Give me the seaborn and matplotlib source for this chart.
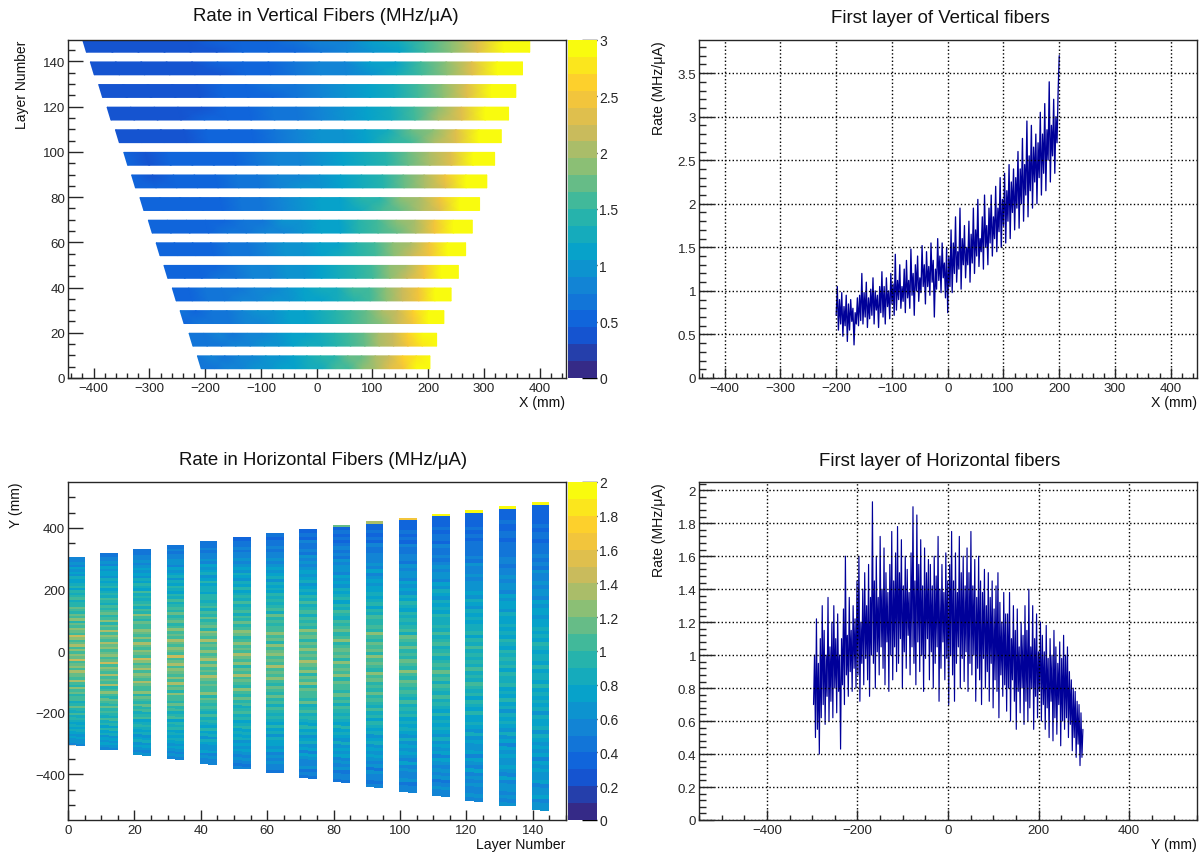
import matplotlib
matplotlib.use("Agg")
import matplotlib.pyplot as plt
from matplotlib.colors import Normalize
from matplotlib.ticker import MultipleLocator, FuncFormatter
import numpy as np
import seaborn as sns

sns.set_theme(style="ticks")
plt.rcParams['font.family'] = ['Liberation Sans', 'DejaVu Sans']
plt.rcParams['axes.linewidth'] = 1.0

W, H = 1203, 854

# ROOT "bird" palette stops
BIRD = [(0.2082, 0.1664, 0.5293), (0.0592, 0.3599, 0.8684), (0.0780, 0.5041, 0.8385),
        (0.0232, 0.6419, 0.7914), (0.1802, 0.7178, 0.6425), (0.5301, 0.7492, 0.4662),
        (0.8186, 0.7328, 0.3499), (0.9956, 0.7862, 0.1968), (0.9764, 0.9832, 0.0539)]

# --- vertical fibers: layer edges (mm) and rate along each layer, bottom layer first
V_LEFT = [-214, -229, -245, -259, -274, -288, -302, -317, -332, -346, -361, -376, -391, -406, -420]
V_RIGHT = [203, 215, 228, 241, 254, 267, 279, 292, 305, 319, 331, 344, 357, 369, 382]
V_RATES = [
    [[.66, .70, .78, .78, .90, .94, 1.08, 1.12, 1.28, 1.32, 1.5, 1.6, 1.82, 1.95, 2.3, 2.45, 2.85, 3.05],
     [.72, .76, .74, .84, .86, 1.0, 1.02, 1.18, 1.22, 1.38, 1.45, 1.66, 1.75, 2.05, 2.2, 2.55, 2.75, 3.15]],
    [[.62, .68, .72, .76, .84, .90, 1.02, 1.1, 1.22, 1.3, 1.45, 1.58, 1.76, 1.95, 2.22, 2.5, 2.82, 3.12],
     [.68, .64, .76, .72, .88, .86, .98, 1.14, 1.18, 1.34, 1.4, 1.62, 1.7, 2.0, 2.18, 2.55, 2.88, 3.2]],
    [[.6, .62, .68, .72, .8, .86, .96, 1.06, 1.16, 1.26, 1.4, 1.52, 1.7, 1.92, 2.2, 2.48, 2.85, 3.2],
     [.64, .6, .72, .7, .76, .9, .92, 1.1, 1.14, 1.3, 1.36, 1.56, 1.66, 1.98, 2.14, 2.55, 2.9, 3.25]],
    [[.58, .58, .62, .68, .76, .82, .9, 1.0, 1.1, 1.2, 1.34, 1.46, 1.64, 1.88, 2.16, 2.46, 2.88, 3.25],
     [.6, .56, .66, .66, .72, .86, .88, 1.04, 1.08, 1.24, 1.3, 1.5, 1.6, 1.92, 2.1, 2.52, 2.94, 3.3]],
    [[.55, .54, .58, .62, .7, .76, .84, .94, 1.04, 1.16, 1.28, 1.42, 1.6, 1.84, 2.12, 2.44, 2.9, 3.3],
     [.56, .52, .6, .6, .68, .8, .82, .98, 1.02, 1.18, 1.24, 1.46, 1.56, 1.88, 2.08, 2.5, 2.95, 3.3]],
    [[.53, .52, .54, .58, .66, .72, .8, .9, 1.0, 1.12, 1.24, 1.38, 1.56, 1.8, 2.1, 2.42, 2.9, 3.3],
     [.54, .5, .56, .56, .64, .74, .78, .94, .98, 1.14, 1.2, 1.42, 1.52, 1.84, 2.06, 2.48, 2.95, 3.3]],
    [[.51, .5, .52, .56, .62, .68, .76, .86, .96, 1.08, 1.2, 1.35, 1.52, 1.78, 2.08, 2.42, 2.9, 3.3],
     [.52, .48, .54, .54, .6, .7, .74, .9, .94, 1.1, 1.18, 1.38, 1.5, 1.82, 2.04, 2.46, 2.95, 3.3]],
    [[.50, .48, .50, .54, .60, .66, .74, .84, .94, 1.05, 1.18, 1.32, 1.5, 1.75, 2.05, 2.4, 2.9, 3.3],
     [.52, .46, .52, .52, .58, .68, .72, .86, .92, 1.08, 1.15, 1.35, 1.46, 1.8, 2.0, 2.45, 2.95, 3.3]],
    [[.47, .46, .47, .5, .56, .62, .7, .8, .9, 1.0, 1.12, 1.27, 1.45, 1.72, 2.02, 2.38, 2.9, 3.3],
     [.48, .44, .48, .48, .54, .64, .68, .82, .88, 1.02, 1.1, 1.3, 1.42, 1.76, 1.98, 2.42, 2.95, 3.3]],
    [[.45, .44, .45, .47, .52, .58, .65, .75, .85, .95, 1.08, 1.22, 1.4, 1.68, 2.0, 2.36, 2.9, 3.3],
     [.46, .42, .46, .45, .5, .6, .63, .77, .83, .98, 1.05, 1.25, 1.38, 1.72, 1.96, 2.4, 2.95, 3.3]],
    [[.43, .42, .42, .44, .49, .54, .6, .7, .8, .91, 1.03, 1.17, 1.36, 1.65, 1.98, 2.34, 2.9, 3.3],
     [.44, .4, .43, .42, .47, .56, .58, .72, .78, .94, 1.0, 1.2, 1.34, 1.68, 1.94, 2.38, 2.95, 3.3]],
    [[.42, .4, .4, .42, .46, .5, .56, .64, .74, .86, .98, 1.13, 1.32, 1.6, 1.96, 2.34, 2.9, 3.3],
     [.43, .38, .41, .4, .44, .52, .54, .66, .72, .88, .96, 1.15, 1.3, 1.64, 1.92, 2.38, 2.95, 3.3]],
    [[.4, .38, .38, .4, .43, .47, .52, .6, .68, .8, .92, 1.08, 1.27, 1.56, 1.94, 2.32, 2.9, 3.3],
     [.42, .37, .39, .38, .41, .49, .5, .62, .66, .82, .9, 1.1, 1.25, 1.6, 1.9, 2.36, 2.95, 3.3]],
    [[.38, .36, .36, .37, .4, .44, .49, .56, .64, .76, .88, 1.04, 1.24, 1.54, 1.92, 2.32, 2.9, 3.3],
     [.4, .35, .37, .36, .39, .46, .47, .58, .62, .78, .86, 1.06, 1.2, 1.58, 1.88, 2.36, 2.95, 3.3]],
    [[.34, .33, .32, .34, .37, .41, .46, .52, .6, .72, .85, 1.0, 1.2, 1.5, 1.9, 2.3, 2.9, 3.3],
     [.42, .4, .4, .4, .44, .48, .5, .58, .64, .78, .88, 1.05, 1.22, 1.55, 1.88, 2.35, 2.95, 3.3]],
]

# --- horizontal fibers: layer edges (mm) and rate along each layer, bottom of layer first
H_TOP = [306, 318, 331, 344, 357, 370, 383, 395, 408, 421, 433, 446, 459, 472, 485]
H_BOTTOM = [-308, -322, -339, -352, -368, -384, -397, -414, -429, -443, -459, -474, -488, -504, -518]
H_EDGE_MM = [0, 0, 0, 0, 0, 0, 0, 0, 3, 4, 5, 5, 6, 7, 8]
H_EDGE_RATE = [0, 0, 0, 0, 0, 0, 0, 0, 1.1, 1.3, 1.6, 1.9, 2.0, 2.0, 2.0]
H_RATES = [
    [.5,.6,.6,.7,.6,.7,.8,.7,.8,.7, .8,.9,.8,1,.8,.9,1.1,.9,.8,1, 1,.9,1.1,1,1.2,.9,1,1.3,1,1.1, 1.1,1.3,1,1.2,1.1,1,1.4,1.1,1.2,1, 1.2,1,1.3,1.1,1,1.2,1.4,1,1.1,1.2, 1,1.1,.9,1.2,1,1.1,.9,1,1.1,.9, .9,.8,1,.9,.8,.9,.7,.9,.8,.7, .7,.8,.6,.7,.6,.7,.5,.6,.5,.5],
    [.5,.6,.7,.6,.7,.6,.8,.7,.9,.7, .9,.8,1,.8,.9,1,.9,1.1,.9,1, 1.1,.9,1,1.2,1,.9,1.3,1,1.1,1, 1.3,1,1.1,1.2,1,1.4,1.1,1,1.2,1.1, 1,1.2,1.1,1.3,1,1.1,1.2,1,1.3,1, 1.1,.9,1.2,1,.9,1.1,1,.9,1,.8, .9,1,.8,.9,.8,.7,.9,.8,.7,.8, .6,.7,.7,.6,.7,.5,.6,.5,.5,.4],
    [.6,.5,.6,.7,.6,.8,.7,.6,.8,.7, .8,.9,.8,.7,1,.9,.8,1,.9,1.1, .9,1,1.1,.9,1.2,1,1,1.1,1.3,1, 1.1,1.2,1,1.3,1.1,1,1.2,1.4,1,1.1, 1.2,1,1.1,1.3,1,1.2,1,1.1,1.2,1, 1,1.1,.9,1,1.2,.9,1,.8,1,.9, .8,.9,.8,1,.7,.8,.9,.7,.8,.6, .7,.6,.7,.6,.5,.6,.5,.5,.4,.4],
    [.5,.6,.5,.6,.7,.6,.7,.8,.7,.8, .7,.9,.8,.9,.7,1,.9,.8,1,.9, 1.1,.9,1,1,1.2,.9,1.1,1,1.3,1, 1.2,1,1.1,1.2,1,1.3,1.1,1,1.4,1, 1.1,1.2,1,1.1,1.3,1,1.1,1,1.2,1, .9,1.1,1,.9,1.1,.9,1,.9,.8,1, .8,.9,.7,.8,.9,.7,.8,.6,.8,.7, .6,.7,.5,.6,.6,.5,.5,.4,.5,.4],
    [.5,.5,.6,.5,.7,.6,.6,.7,.8,.6, .8,.7,.9,.7,.8,.9,.8,1,.8,.9, 1,.9,1,1.1,.9,1.2,1,1,1.1,1, 1.1,1.3,1,1.1,1,1.2,1,1.3,1.1,1, 1.2,1,1.1,1,1.3,1,1.1,1.2,.9,1.1, 1,.9,1.1,.9,1,.8,1,.9,.8,.9, .9,.7,.8,.8,.7,.9,.7,.6,.8,.7, .6,.7,.5,.6,.5,.5,.4,.5,.4,.4],
    [.5,.4,.5,.6,.5,.6,.7,.6,.7,.6, .8,.7,.8,.7,.9,.8,.7,.9,.8,1, .9,.8,1,.9,1.1,.9,1,1.2,.9,1, 1.1,1,1.3,1,1.1,.9,1.2,1,1.1,1.3, 1,1.1,1,1.2,1,.9,1.1,1.2,1,.9, 1.1,.9,1,.8,1,.9,.8,1,.8,.9, .8,.7,.9,.7,.8,.6,.7,.8,.6,.7, .6,.5,.6,.5,.5,.4,.5,.4,.4,.3],
    [.4,.5,.5,.6,.5,.6,.5,.7,.6,.7, .7,.8,.6,.8,.7,.9,.7,.8,.9,.8, .9,1,.8,1,.9,1.1,.9,1,1.1,.9, 1,1.2,1,1.1,1,1.3,1,1.1,1,1.2, 1.1,1,1.2,.9,1.1,1,1.2,1,1,.9, 1,.9,1.1,.8,1,.9,.8,.9,.8,.9, .7,.8,.7,.8,.6,.8,.7,.6,.7,.6, .5,.6,.5,.5,.4,.5,.4,.4,.3,.4],
    [.4,.5,.4,.6,.5,.5,.6,.7,.5,.7, .6,.8,.7,.6,.8,.7,.9,.7,.8,.9, .8,1,.9,.8,1.1,.9,1,1,1.1,.9, 1.2,1,1.1,.9,1.2,1,1.1,1.3,1,1.1, 1,1.2,1,1.1,.9,1.1,1,1.2,.9,1, .9,1,.8,1,.9,.8,1,.8,.9,.7, .8,.7,.6,.8,.7,.6,.7,.6,.5,.6, .5,.6,.4,.5,.4,.4,.5,.3,.4,.3],
    [.4,.5,.5,.4,.6,.5,.6,.5,.7,.6, .7,.6,.8,.6,.7,.8,.7,.9,.7,.8, .9,.8,.9,1,.8,1,.9,1.1,.9,1, 1,1.1,.9,1.2,1,1.1,1,1.2,.9,1.1, 1,1.1,1,.9,1.2,1,.9,1.1,1,.9, 1,.8,.9,1,.8,.9,.7,.9,.8,.7, .8,.6,.7,.6,.7,.5,.6,.6,.5,.6, .4,.5,.4,.5,.4,.3,.4,.3,.4,.3],
    [.5,.4,.5,.5,.6,.4,.6,.5,.6,.7, .6,.7,.6,.8,.7,.6,.8,.7,.8,.9, .7,.9,.8,1,.8,.9,1,.9,1.1,.9, 1,.9,1.1,1,1.2,.9,1,1.1,1,1.2, .9,1.1,1,1.1,.9,1,1.2,.9,1,.9, .9,1,.8,.9,.7,.9,.8,.7,.8,.7, .7,.6,.7,.6,.5,.7,.5,.6,.5,.5, .5,.4,.4,.5,.3,.4,.3,.4,.3,.3],
    [.5,.5,.4,.6,.5,.5,.6,.5,.7,.5, .6,.7,.6,.7,.6,.8,.6,.7,.8,.7, .8,.7,.9,.8,.9,.8,1,.8,.9,1, .9,1,1.1,.9,1,1.2,.9,1,1.1,.9, 1,.9,1.1,.9,1,1.1,.8,1,.9,.8, .9,.8,.9,.7,.8,.9,.7,.8,.6,.7, .6,.7,.5,.6,.6,.5,.6,.4,.5,.5, .4,.4,.5,.3,.4,.3,.4,.3,.3,.3],
    [.5,.5,.6,.5,.4,.6,.5,.6,.5,.6, .7,.5,.7,.6,.7,.6,.8,.6,.7,.8, .7,.8,.7,.9,.7,.8,.9,.8,1,.8, .9,1,.8,1,.9,1.1,.9,1,.9,.8, 1,.9,.8,1,.9,.8,1,.8,.9,.8, .8,.9,.7,.8,.7,.8,.6,.7,.8,.6, .7,.5,.6,.6,.5,.6,.5,.4,.5,.4, .4,.5,.3,.4,.4,.3,.4,.3,.3,.3],
    [.5,.6,.5,.5,.6,.5,.6,.5,.7,.5, .6,.7,.5,.7,.6,.6,.7,.6,.8,.6, .7,.8,.7,.7,.9,.7,.8,.9,.7,.9, .8,.9,1,.8,.9,.8,1,.8,.9,.8, .9,.8,1,.8,.9,.7,.9,.8,.8,.7, .8,.7,.8,.6,.7,.8,.6,.7,.6,.6, .6,.5,.6,.5,.5,.6,.4,.5,.4,.4, .4,.4,.3,.4,.3,.4,.3,.3,.3,.3],
    [.6,.5,.6,.5,.6,.6,.5,.7,.5,.6, .7,.6,.6,.7,.6,.7,.5,.7,.6,.8, .6,.7,.8,.7,.8,.6,.8,.7,.9,.7, .8,.7,.9,.8,.8,.9,.7,.9,.8,.9, .8,.9,.7,.8,.9,.7,.8,.7,.8,.7, .7,.8,.6,.7,.7,.6,.7,.5,.6,.6, .5,.6,.5,.5,.4,.5,.5,.4,.4,.4, .4,.3,.4,.4,.3,.3,.4,.3,.3,.3],
    [.6,.6,.5,.7,.6,.6,.5,.7,.6,.6, .7,.6,.7,.5,.7,.6,.7,.6,.7,.8, .6,.8,.7,.7,.8,.6,.8,.7,.8,.7, .8,.7,.9,.7,.8,.8,.7,.9,.7,.8, .8,.7,.8,.9,.7,.8,.7,.8,.7,.7, .6,.7,.7,.6,.7,.5,.6,.6,.5,.6, .5,.5,.6,.4,.5,.4,.5,.4,.4,.4, .3,.4,.4,.3,.4,.3,.3,.3,.3,.3],
]

# --- first layer of the vertical fibers, one value per bin from -200 to 200 mm
V_FIRST = [.72, 1.05, .55, .9, .62, .98, .48, .82, .6, .95, .42, .85, .55, .9, .65, .8, .38, .75, .62, .92,
           .6, .95, .66, 1.2, .62, .98, .7, 1.1, .58, .92, .68, 1.02, .72, 1.15, .62, 1.0, .78, .95, .58, 1.05,
           .75, 1.22, .7, 1.05, .62, 1.15, .82, 1.0, .68, 1.2, .85, 1.08, .72, 1.42, .78, 1.12, .9, 1.3, .8, 1.05,
           .88, 1.25, .75, 1.35, .92, 1.12, .8, 1.48, .95, 1.2, .72, 1.3, 1.0, 1.4, .88, 1.15, .98, 1.52, 1.05, 1.3,
           .85, 1.45, 1.05, 1.28, .95, 1.55, 1.1, 1.35, .7, 1.25, 1.02, 1.6, 1.12, 1.4, .98, 1.55, 1.15, 1.32, .92, 1.5,
           .75, 1.4, 1.05, 1.7, .98, 1.55, 1.2, 1.85, 1.1, 1.45, 1.25, 1.95, 1.02, 1.6, 1.3, 1.75, 1.15, 1.5, 1.3, 1.8,
           1.1, 1.65, 1.32, 1.95, 1.2, 1.7, 1.4, 2.05, 1.28, 1.6, 1.45, 1.85, 1.25, 2.1, 1.5, 1.75, 1.3, 1.95, 1.55, 2.1,
           1.4, 1.85, 1.6, 2.2, 1.45, 1.95, 1.68, 2.3, 1.5, 2.05, 1.75, 2.35, 1.55, 2.15, 1.8, 2.45, 1.6, 2.25, 1.9, 2.4,
           1.7, 2.3, 1.95, 2.6, 1.72, 2.4, 2.0, 2.75, 1.8, 2.45, 2.1, 2.95, 1.85, 2.55, 2.15, 2.9, 1.95, 2.65, 2.25, 2.8,
           2.0, 2.7, 2.3, 3.05, 2.1, 2.8, 2.35, 3.15, 2.15, 2.85, 2.5, 3.4, 2.25, 2.9, 2.55, 3.2, 2.35, 3.0, 2.7, 3.3, 3.7]

# --- first layer of the horizontal fibers, one value per bin from -297 to 298 mm
H_FIRST = [.7, 1.0, .5, 1.22, .55, .95, .4, 1.1, .62, 1.3, .7, 1.15, .58, 1.0, .75, 1.35, .6, 1.05, .72, 1.2,
           .62, 1.3, .8, 1.1, .65, 1.25, .78, 1.0, .43, 1.1, .82, 1.28, .7, 1.6, .88, 1.12, .75, 1.35, .9, 1.15,
           .78, 1.3, .92, 1.22, .8, 1.45, .88, 1.6, .72, 1.2, .95, 1.4, .82, 1.5, .98, 1.3, .85, 1.55, .75, 1.35,
           1.0, 1.93, .95, 1.45, .8, 1.6, 1.02, 1.35, .88, 1.72, 1.05, 1.4, .92, 1.65, .82, 1.5, 1.08, 1.38, .78, 1.55,
           1.0, 1.75, .85, 1.45, 1.05, 1.62, .9, 1.78, .95, 1.5, 1.1, 1.7, .8, 1.42, 1.02, 1.6, .92, 1.52, 1.12, 1.38,
           .88, 1.62, 1.05, 1.9, .95, 1.45, .82, 1.85, 1.08, 1.55, .9, 1.7, 1.0, 1.42, .78, 1.65, .98, 1.5, 1.1, 1.58,
           .85, 1.55, 1.02, 1.42, .8, 1.6, .95, 1.48, 1.05, 1.72, .72, 1.4, .92, 1.55, 1.08, 1.38, .85, 1.62, .98, 1.45,
           .7, 1.55, 1.0, 1.75, .88, 1.45, .72, 1.62, .95, 1.38, 1.05, 1.72, .8, 1.5, .98, 1.6, .84, 1.42, 1.02, 1.65,
           .78, 1.5, .95, 1.75, .88, 1.42, 1.0, 1.58, .72, 1.35, .92, 1.6, .85, 1.45, .7, 1.38, .98, 1.52, .8, 1.3,
           .9, 1.5, .72, 1.35, .95, 1.45, .68, 1.28, .85, 1.42, .78, 1.5, .62, 1.32, .88, 1.2, .75, 1.38, .82, 1.25,
           .66, 1.25, .8, 1.38, .6, 1.1, .85, 1.3, .72, 1.15, .55, 1.28, .78, 1.05, .65, 1.2, .8, 1.12, .58, 1.3,
           .72, 1.15, .6, 1.4, .68, 1.05, .8, 1.3, .55, 1.1, .75, 1.25, .62, 1.02, .78, 1.2, .6, 1.12, .7, 1.02,
           .55, 1.18, .68, .98, .5, 1.1, .72, 1.0, .48, 1.15, .62, 1.05, .52, .95, .7, 1.08, .45, .98, .6, 1.12,
           .55, 1.0, .62, 1.05, .5, .9, .58, .85, .42, .8, .5, .78, .38, .72, .46, .7, .33, .65, .38, .55]

cmap = sns.blend_palette(BIRD, n_colors=256, as_cmap=True).resampled(20)
g_fmt = FuncFormatter(lambda v, pos: f"{v:g}".replace('-', '\u2212'))


def px_axes(x0, y0, x1, y1):
    return fig.add_axes([x0 / W, 1 - y1 / H, (x1 - x0) / W, (y1 - y0) / H])


def label(x, y, s, size=10.2, rotation=0, ha='right', va='center'):
    fig.text(x / W, 1 - y / H, s, fontsize=size, rotation=rotation, ha=ha, va=va, color='#111111')


def style_axis(ax, xmaj, xmin, ymaj, ymin, grid=False):
    ax.xaxis.set_major_locator(MultipleLocator(xmaj))
    ax.xaxis.set_minor_locator(MultipleLocator(xmin))
    ax.yaxis.set_major_locator(MultipleLocator(ymaj))
    ax.yaxis.set_minor_locator(MultipleLocator(ymin))
    ax.xaxis.set_major_formatter(g_fmt)
    ax.yaxis.set_major_formatter(g_fmt)
    ax.tick_params(axis='x', which='major', direction='in', length=7.2, width=1, labelsize=9.6, pad=3)
    ax.tick_params(axis='x', which='minor', direction='in', length=3.6, width=1)
    ax.tick_params(axis='y', which='major', direction='in', length=10.5, width=1, labelsize=9.6, pad=2)
    ax.tick_params(axis='y', which='minor', direction='in', length=5, width=1)
    ax.set_xlabel('')
    ax.set_ylabel('')
    if grid:
        ax.grid(True, which='major', color='black', linestyle=':', linewidth=1)
        ax.set_axisbelow(False)


def add_colorbar(mesh, ymax, step, x0, y0, y1):
    cax = px_axes(x0, y0, x0 + 29, y1)
    cb = fig.colorbar(mesh, cax=cax, ticks=np.arange(0, ymax + step / 2, step), format=g_fmt)
    cb.outline.set_visible(False)
    cax.tick_params(direction='in', length=10.5, width=1, labelsize=10, pad=2, color='black')


fig = plt.figure(figsize=(W / 100, H / 100), dpi=100)

# --- 1. Rate in vertical fibers ---
ax1 = px_axes(68, 41, 566, 379)
norm3 = Normalize(0, 3)
for k, rows in enumerate(V_RATES):
    c = np.array(rows)
    bottom_edge = np.linspace(V_LEFT[k] + 7, V_RIGHT[k], c.shape[1])
    top_edge = np.linspace(V_LEFT[k], V_RIGHT[k], c.shape[1])
    xx = np.vstack([bottom_edge, top_edge])
    yy = np.vstack([np.full(c.shape[1], 4.1 + 10 * k), np.full(c.shape[1], 9.8 + 10 * k)])
    mesh1 = ax1.pcolormesh(xx, yy, c, cmap=cmap, norm=norm3, shading='gouraud')
ax1.set_xlim(-446, 447)
ax1.set_ylim(0, 149.5)
style_axis(ax1, 100, 20, 20, 5)
add_colorbar(mesh1, 3, 0.5, 567.5, 41, 379)

# --- 2. First layer of vertical fibers ---
ax2 = px_axes(699, 41, 1197, 379)
sns.lineplot(x=np.linspace(-200, 200, len(V_FIRST)), y=V_FIRST, ax=ax2, estimator=None, sort=False,
             color='#000099', linewidth=0.95, legend=False)
ax2.set_xlim(-446, 447)
ax2.set_ylim(0, 3.88)
style_axis(ax2, 100, 20, 0.5, 0.1, grid=True)

# --- 3. Rate in horizontal fibers ---
ax3 = px_axes(68, 483, 566, 821)
norm2 = Normalize(0, 2)
for k, vals in enumerate(H_RATES):
    # rates were read to one colour band, 0.04 puts them safely inside it
    c = np.array(vals).reshape(-1, 1) + 0.04
    top = H_TOP[k] - H_EDGE_MM[k]
    xx = np.column_stack([np.full(len(vals) + 1, 10 * k - 0.3), np.full(len(vals) + 1, 10 * k + 5)])
    yy = np.column_stack([np.linspace(H_BOTTOM[k] + 6, top - 3, len(vals) + 1),
                          np.linspace(H_BOTTOM[k], top, len(vals) + 1)])
    mesh3 = ax3.pcolormesh(xx, yy, c, cmap=cmap, norm=norm2, shading='flat', antialiased=False)
    if H_EDGE_MM[k] > 0:
        ex = [[10 * k - 0.3, 10 * k + 5], [10 * k - 0.3, 10 * k + 5]]
        ey = [[top - 3, top], [H_TOP[k] - 3, H_TOP[k]]]
        ax3.pcolormesh(ex, ey, [[H_EDGE_RATE[k]]], cmap=cmap, norm=norm2, shading='flat')
ax3.set_xlim(0, 150)
ax3.set_ylim(-548, 549)
style_axis(ax3, 20, 5, 200, 50)
add_colorbar(mesh3, 2, 0.2, 567.5, 483, 821)

# --- 4. First layer of horizontal fibers ---
ax4 = px_axes(699, 483, 1197, 821)
sns.lineplot(x=np.linspace(-297, 298, len(H_FIRST)), y=H_FIRST, ax=ax4, estimator=None, sort=False,
             color='#000099', linewidth=0.85, legend=False)
ax4.set_xlim(-550, 550)
ax4.set_ylim(0, 2.05)
style_axis(ax4, 200, 50, 0.2, 0.04, grid=True)

# Titles and axis labels, ROOT style
label(326, 21, 'Rate in Vertical Fibers (MHz/\u03bcA)', size=13.4, ha='center', va='baseline')
label(940, 23, 'First layer of Vertical fibers', size=13.4, ha='center', va='baseline')
label(323, 465, 'Rate in Horizontal Fibers (MHz/\u03bcA)', size=13.4, ha='center', va='baseline')
label(940, 466, 'First layer of Horizontal fibers', size=13.4, ha='center', va='baseline')
label(565, 403, 'X (mm)')
label(1197, 403, 'X (mm)')
label(565, 845, 'Layer Number')
label(1197, 845, 'Y (mm)')
label(22, 41, 'Layer Number', size=10, rotation=90, ha='center', va='top')
label(16, 483, 'Y (mm)', size=10, rotation=90, ha='center', va='top')
label(659, 41, 'Rate (MHz/\u03bcA)', rotation=90, ha='center', va='top')
label(659, 483, 'Rate (MHz/\u03bcA)', rotation=90, ha='center', va='top')

plt.savefig("out.png", dpi=100)
plt.close()
